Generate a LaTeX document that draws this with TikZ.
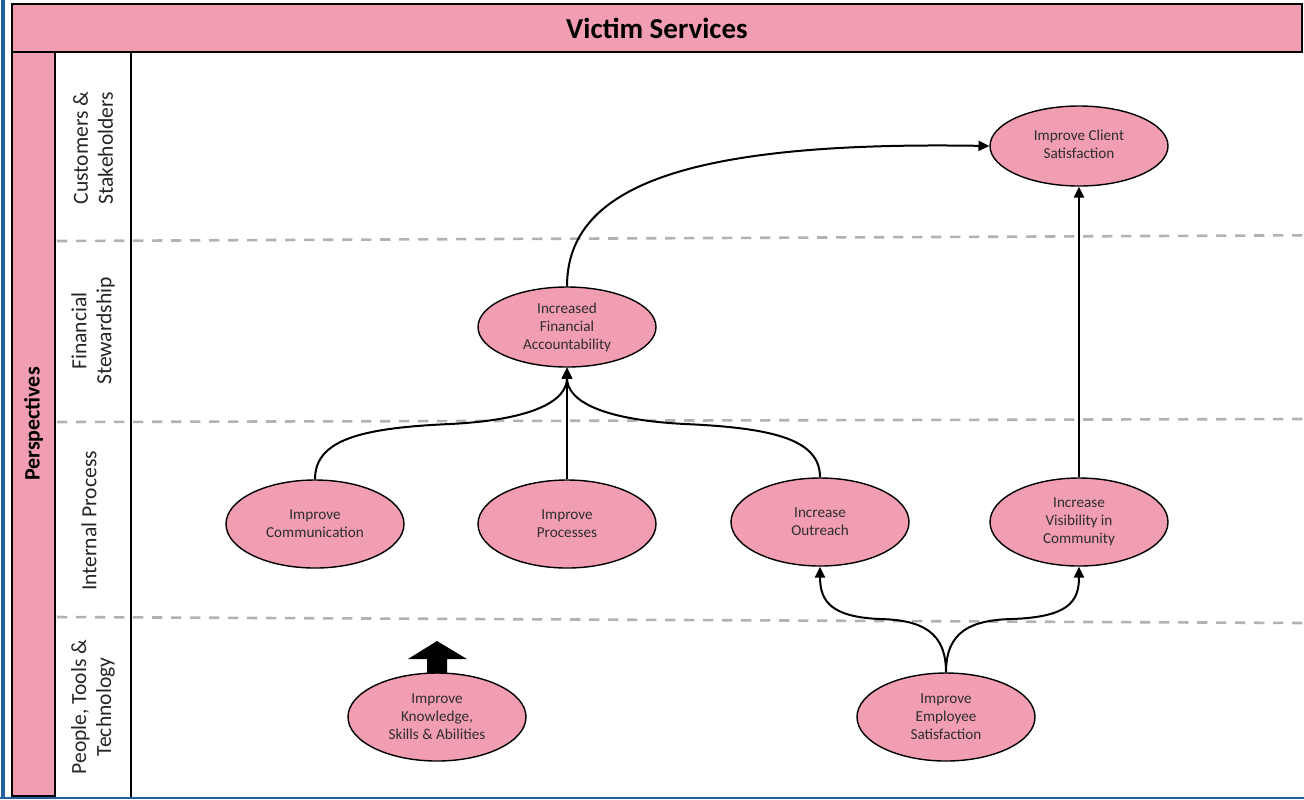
\documentclass[tikz,border=0pt]{standalone}
\usepackage{fontspec}
\setmainfont{Carlito}
\usetikzlibrary{arrows.meta,shapes.geometric}
\definecolor{bandpink}{RGB}{241,157,178}
\definecolor{edgeblue}{RGB}{36,94,156}
\definecolor{dashgray}{RGB}{178,178,178}

\begin{document}
\begin{tikzpicture}[x=0.5pt,y=-0.5pt,
  goal/.style={ellipse, draw=black, line width=0.7pt, fill=bandpink,
    minimum width=89pt, minimum height=44pt, inner sep=0pt, align=center,
    font=\fontsize{7.6}{9}\selectfont, text=black!82},
  goalflat/.style={goal, minimum height=40pt},
  link/.style={line width=1pt, -{Triangle[length=5.4pt,width=5pt]}},
  band/.style={line width=1.3pt, dashgray, dash pattern=on 5.2pt off 4.3pt},
  frame/.style={draw=black, line width=1.4pt},
  rowlabel/.style={rotate=90, align=center, font=\fontsize{10.8}{12.5}\selectfont, text=black!85}
]
\useasboundingbox (0,0) rectangle (1304,799);

% outer page edges
\draw[edgeblue, line width=2pt] (3,0) -- (3,799);
\draw[edgeblue, line width=1.2pt] (0,798) -- (1304,798);

% perspective bands
\draw[band] (57,241) -- (1304,235.3);
\draw[band] (57,422) -- (1304,419);
\draw[band] (57,617) -- (1304,623);

% header and side columns
\node[frame, fill=bandpink, minimum width=645pt, minimum height=24pt, inner sep=0pt,
  font=\bfseries\fontsize{14.5}{16}\selectfont] (title) at (657,28) {Victim Services};
\filldraw[frame, fill=bandpink] (12,52) rectangle (55,796);
\node[rotate=90, font=\bfseries\fontsize{11}{12}\selectfont] (persp) at (33.5,424) {Perspectives};
\draw[black, line width=1.4pt] (131,52) -- (131,797);

\node[rowlabel] (lblcust) at (93,148) {Customers \&\\Stakeholders};
\node[rowlabel] (lblfin) at (93,331) {Financial\\Stewardship};
\node[rowlabel] (lblint) at (89,521) {Internal Process};
\node[rowlabel] (lblppl) at (93,707) {People, Tools \&\\Technology};

% objectives
\node[goalflat] (client) at (1079,146) {\raisebox{2pt}{\shortstack{Improve Client\\[-0.5pt]Satisfaction}}};
\node[goalflat] (finance) at (567,327) {Increased\\Financial\\Accountability};
\node[goal] (comm) at (315,524) {Improve\\Communication};
\node[goal] (proc) at (567,524) {Improve\\Processes};
\node[goal] (outreach) at (820,522) {Increase\\Outreach};
\node[goal] (visib) at (1079,522) {Increase\\Visibility in\\Community};
\node[goal] (knowl) at (437,717) {Improve\\Knowledge,\\Skills \& Abilities};
\node[goal] (employee) at (946,717) {Improve\\Employee\\Satisfaction};

% cause-and-effect links
\draw[link] (finance.north) .. controls (567,185) and (690,141) .. (client.west);
\draw[link] (visib.north) -- (client.south);
\draw[link] (comm.north) .. controls (315,440) and (360,428) .. (450,424)
  .. controls (530,420) and (567,402) .. (finance.south);
\draw[link] (proc.north) -- (finance.south);
\draw[link] (outreach.north) .. controls (820,440) and (775,428) .. (685,424)
  .. controls (605,420) and (567,402) .. (finance.south);
\draw[link] (employee.north) .. controls (946,632) and (922,620) .. (880,619)
  .. controls (832,617) and (820,602) .. (outreach.south);
\draw[link] (employee.north) .. controls (946,632) and (970,620) .. (1012,619)
  .. controls (1068,617) and (1079,602) .. (visib.south);

% block arrow above the knowledge objective
\fill[black] (408,659) -- (437,641) -- (467,659) -- (447,659) -- (447,673)
  -- (427,673) -- (427,659) -- cycle;
\end{tikzpicture}
\end{document}
